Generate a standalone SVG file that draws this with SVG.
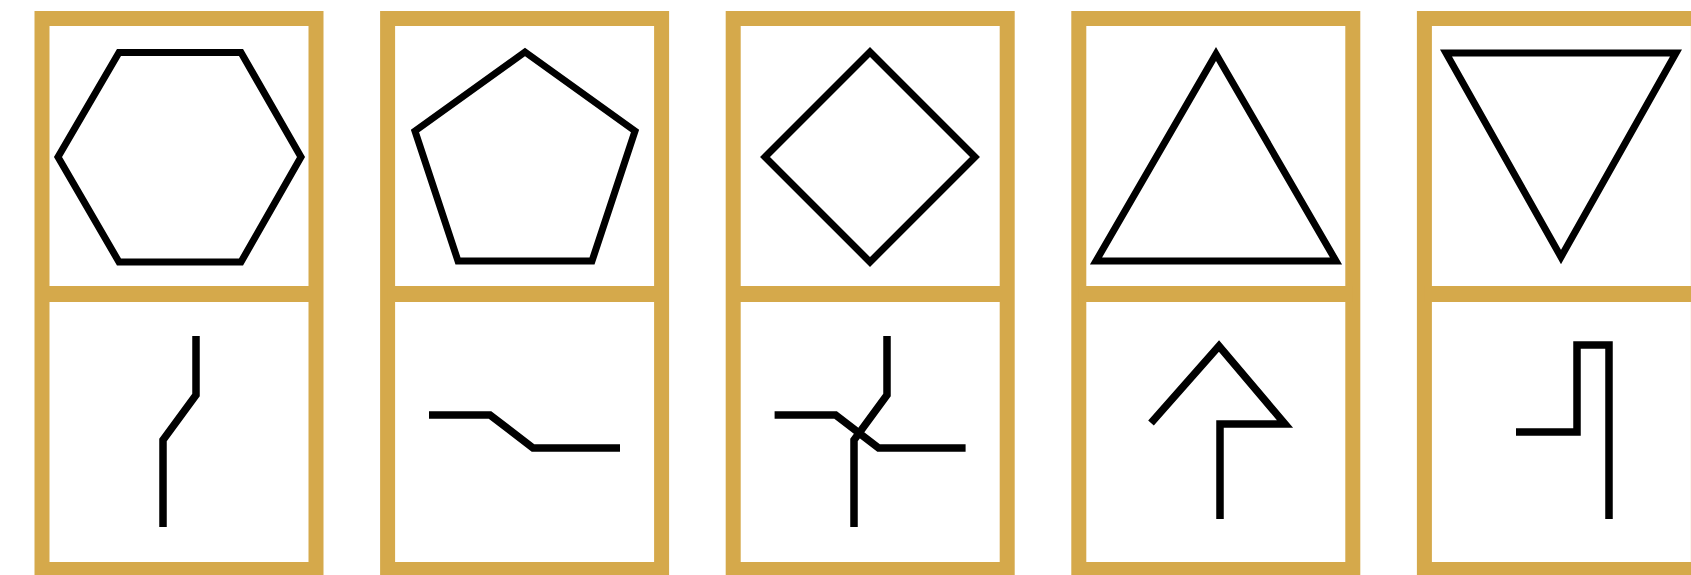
<svg xmlns="http://www.w3.org/2000/svg" width="1691" height="575" viewBox="0 0 1691 575">
<style>
.frame{fill:none;stroke:#D5A94B;stroke-width:15}
.div{stroke:#D5A94B;stroke-width:16}
.shape{fill:none;stroke:#000;stroke-width:7;stroke-linejoin:miter;stroke-miterlimit:10}
.sym{fill:none;stroke:#000;stroke-width:7.5;stroke-linecap:butt;stroke-linejoin:miter;stroke-miterlimit:10}
</style>
<rect x="0" y="0" width="1691" height="575" fill="#fff"/>
<g id="node-hexagon">
<rect class="frame" x="42" y="18.5" width="274" height="551"/>
<line class="div" x1="42" y1="294" x2="316" y2="294"/>
<polygon class="shape" points="119,52.5 241,52.5 301,157 241,262 119,262 58,157"/>
<polyline class="sym" points="196,336 196,395 163,440 163,527"/>
</g>
<g id="node-pentagon">
<rect class="frame" x="387.6" y="18.5" width="274" height="551"/>
<line class="div" x1="387.6" y1="294" x2="661.6" y2="294"/>
<polygon class="shape" points="525,52 635,131 592,261 458,261 415,131"/>
<polyline class="sym" points="429,415 490,415 533,448 620,448"/>
</g>
<g id="node-diamond">
<rect class="frame" x="733.2" y="18.5" width="274" height="551"/>
<line class="div" x1="733.2" y1="294" x2="1007.2" y2="294"/>
<polygon class="shape" points="870,52 975,157 870,262 765,157"/>
<polyline class="sym" points="887,336 887,395 854,440 854,527"/>
<polyline class="sym" points="774.6,415 835.6,415 878.6,448 965.6,448"/>
</g>
<g id="node-triangle">
<rect class="frame" x="1078.8" y="18.5" width="274" height="551"/>
<line class="div" x1="1078.8" y1="294" x2="1352.8" y2="294"/>
<polygon class="shape" points="1216,54 1336,261 1096,261"/>
<polyline class="sym" points="1151,423 1219,346 1285,424 1220,424 1220,519"/>
</g>
<g id="node-inverted-triangle">
<rect class="frame" x="1424.4" y="18.5" width="274" height="551"/>
<line class="div" x1="1424.4" y1="294" x2="1698.4" y2="294"/>
<polygon class="shape" points="1446,53 1676,53 1561,257"/>
<polyline class="sym" points="1516,432 1577,432 1577,345 1609,345 1609,519"/>
</g>
<g id="connectors"></g>
</svg>
